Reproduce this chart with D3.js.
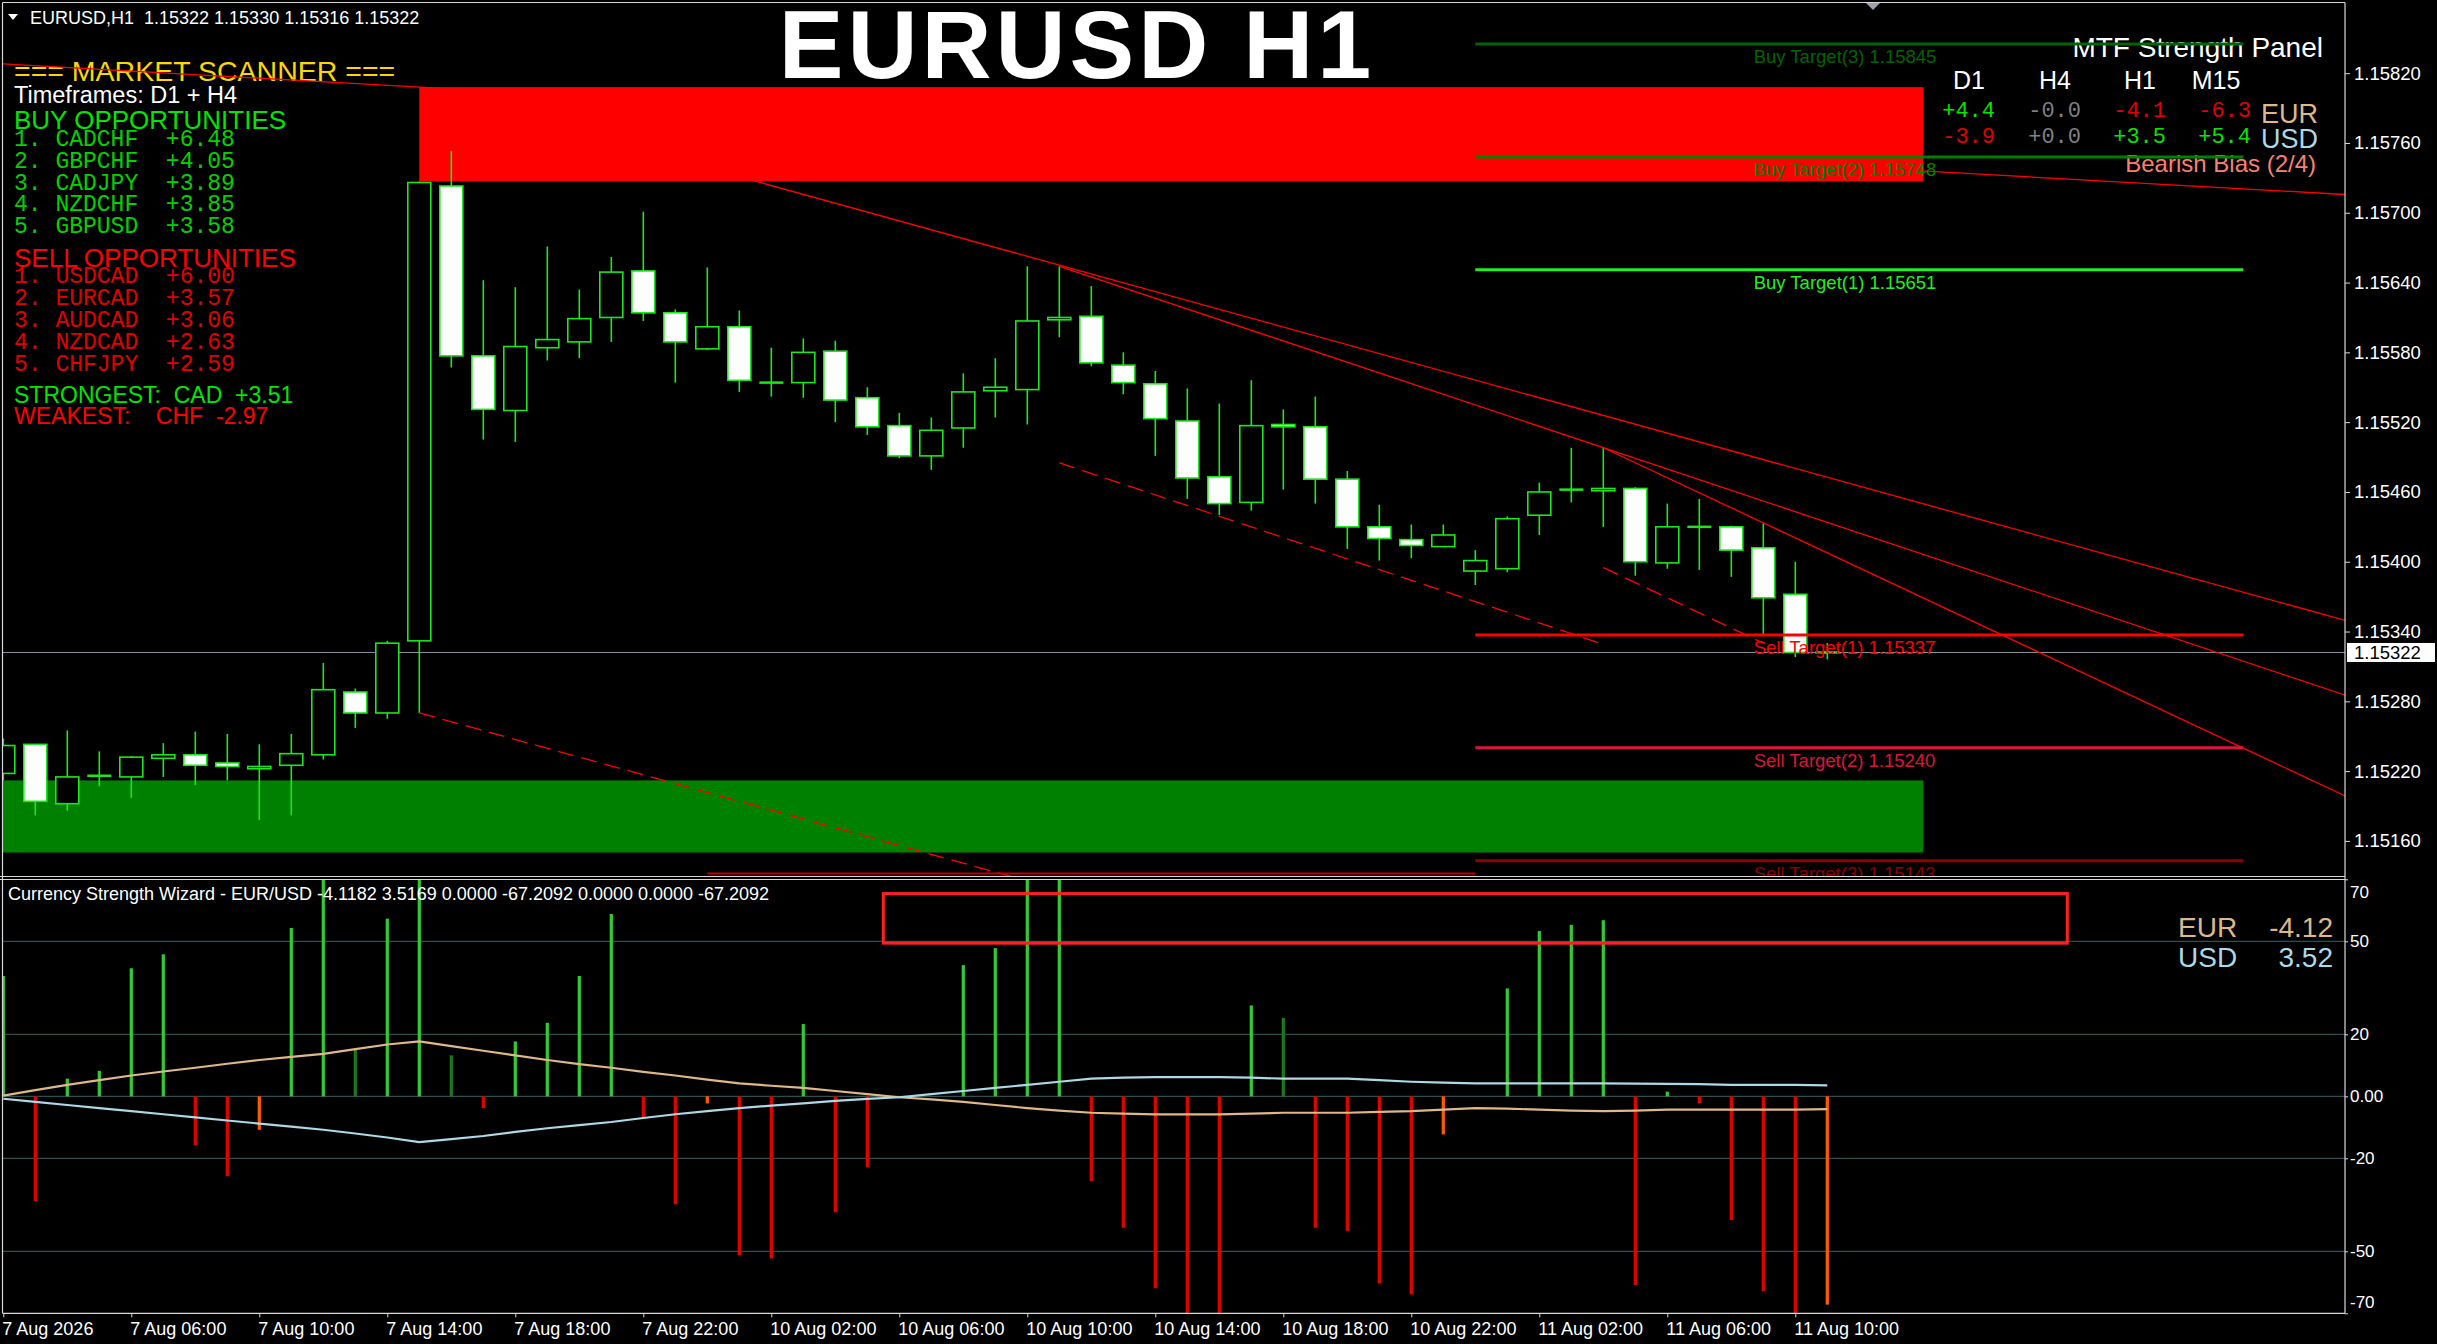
<!DOCTYPE html>
<html><head><meta charset="utf-8">
<script src="https://cdn.jsdelivr.net/npm/d3@7/dist/d3.min.js"></script>
<style>
html,body{margin:0;padding:0;background:#000;overflow:hidden;}
svg{display:block;}
text{white-space:pre;}
</style></head><body>
<svg id="chart" width="2437" height="1344" font-family="'Liberation Sans',Arial,sans-serif"></svg>
<script>
// ---------------- DATA ----------------
const symbolHeader = "EURUSD,H1  1.15322 1.15330 1.15316 1.15322";
const chartTitle = "EURUSD H1";
// H1 bars, index 0 = 7 Aug 02:00
const opens  = [1.15218,1.15243,1.15192,1.15216,1.15215,1.15231,1.15234,1.15227,1.15222,1.15225,1.15234,1.15288,1.15270,1.15332,1.15723,1.15577,1.15530,1.15584,1.15589,1.15610,1.15650,1.15614,1.15583,1.15602,1.15554,1.15554,1.15581,1.15541,1.15517,1.15491,1.15515,1.15547,1.15548,1.15608,1.15611,1.15569,1.15553,1.15521,1.15473,1.15451,1.15518,1.15516,1.15471,1.15430,1.15419,1.15413,1.15392,1.15394,1.15440,1.15462,1.15461,1.15463,1.15399,1.15430,1.15430,1.15412,1.15372,1.15322];
const highs  = [1.15248,1.15243,1.15255,1.15237,1.15233,1.15244,1.15254,1.15252,1.15243,1.15252,1.15313,1.15291,1.15332,1.15727,1.15753,1.15642,1.15636,1.15671,1.15634,1.15662,1.15701,1.15617,1.15653,1.15616,1.15584,1.15592,1.15590,1.15550,1.15528,1.15524,1.15562,1.15575,1.15654,1.15654,1.15637,1.15580,1.15564,1.15549,1.15536,1.15556,1.15531,1.15542,1.15478,1.15449,1.15432,1.15432,1.15410,1.15439,1.15468,1.15498,1.15498,1.15464,1.15450,1.15454,1.15431,1.15433,1.15400,1.15330];
const lows   = [1.15212,1.15182,1.15186,1.15207,1.15197,1.15215,1.15208,1.15212,1.15178,1.15182,1.15230,1.15257,1.15265,1.15270,1.15567,1.15505,1.15503,1.15573,1.15575,1.15589,1.15607,1.15554,1.15582,1.15546,1.15542,1.15541,1.15520,1.15509,1.15489,1.15479,1.15498,1.15524,1.15518,1.15593,1.15568,1.15544,1.15491,1.15454,1.15440,1.15444,1.15462,1.15450,1.15411,1.15401,1.15403,1.15413,1.15380,1.15391,1.15423,1.15451,1.15430,1.15388,1.15394,1.15393,1.15387,1.15336,1.15318,1.15316];
const closes = [1.15242,1.15194,1.15215,1.15216,1.15232,1.15234,1.15225,1.15224,1.15224,1.15235,1.15290,1.15270,1.15330,1.15726,1.15577,1.15531,1.15585,1.15591,1.15609,1.15649,1.15614,1.15589,1.15602,1.15556,1.15554,1.15580,1.15539,1.15516,1.15491,1.15513,1.15546,1.15550,1.15607,1.15610,1.15571,1.15554,1.15523,1.15472,1.15450,1.15517,1.15516,1.15471,1.15430,1.15420,1.15414,1.15423,1.15401,1.15437,1.15460,1.15462,1.15463,1.15400,1.15430,1.15430,1.15410,1.15369,1.15322,1.15322];
const currentPrice = 1.15322;

const priceTicks = [1.15160,1.15220,1.15280,1.15340,1.15400,1.15460,1.15520,1.15580,1.15640,1.15700,1.15760,1.15820];
const timeTickBars = [0,4,8,12,16,20,24,28,32,36,40,44,48,52,56];
const timeTickLabels = ["7 Aug 2026","7 Aug 06:00","7 Aug 10:00","7 Aug 14:00","7 Aug 18:00","7 Aug 22:00","10 Aug 02:00","10 Aug 06:00","10 Aug 10:00","10 Aug 14:00","10 Aug 18:00","10 Aug 22:00","11 Aug 02:00","11 Aug 06:00","11 Aug 10:00"];

// supply / demand zones [fromBar, toBar, lowPrice, highPrice]
const supplyZone = [13, 60, 1.15727, 1.15808];
const demandZone = [-5, 60, 1.15150, 1.15212];

// target levels
const targetNames  = ["Buy Target(3)","Buy Target(2)","Buy Target(1)","Sell Target(1)","Sell Target(2)","Sell Target(3)"];
const targetPrices = [1.15845,1.15748,1.15651,1.15337,1.15240,1.15143];
const targetColors = ["#006400","#008000","#22EE22","#FF0000","#DC143C","#8B0000"];
const targetFromBar = 46, targetToBar = 70, targetLabelBar = 54.7;

// trend lines: [bar1, price1, bar2, price2, extendRight, dashed]
const trendLines = [
  [-2, 1.15831, 73, 1.15716, true, false],
  [13, 1.15807, 33, 1.15655, true, false],
  [33, 1.15654, 73, 1.15287, true, false],
  [50, 1.15498, 73, 1.15201, true, false],
  [13, 1.15270, 33, 1.15118, false, true],
  [33, 1.15485, 50, 1.15329, false, true],
  [50, 1.15395, 55, 1.15330, false, true]
];
const bottomLevel = [22, 46, 1.15132];

// market scanner
const scannerTitle = "=== MARKET SCANNER ===";
const scannerTimeframes = "Timeframes: D1 + H4";
const buyPairs = ["CADCHF","GBPCHF","CADJPY","NZDCHF","GBPUSD"];
const buyScores = [6.48,4.05,3.89,3.85,3.58];
const sellPairs = ["USDCAD","EURCAD","AUDCAD","NZDCAD","CHFJPY"];
const sellScores = [6.00,3.57,3.06,2.63,2.59];
const strongest = ["CAD", 3.51];
const weakest = ["CHF", -2.97];

// MTF panel
const mtfTimeframes = ["D1","H4","H1","M15"];
const mtfEUR = ["+4.4","-0.0","-4.1","-6.3"];
const mtfUSD = ["-3.9","+0.0","+3.5","+5.4"];
const mtfBias = "Bearish Bias (2/4)";

// indicator
const indTitle = "Currency Strength Wizard - EUR/USD -4.1182 3.5169 0.0000 -67.2092 0.0000 0.0000 -67.2092";
const histValues = [38.8,-33.8,5.7,8.2,41.3,45.8,-15.8,-25.8,-10.8,54.3,75,15.2,57.3,80,13.2,-3.8,17.7,23.7,38.8,58.8,-6.8,-34.8,-2.3,-51.3,-52.3,23.3,-37.4,-22.9,0,0,42.3,47.8,72,72,-27.4,-42.4,-61.9,-70,-72,29.3,25.3,-42.4,-43.4,-60.4,-63.9,-12.3,0,34.8,53.3,55.3,56.8,-60.9,1.5,-2.3,-39.9,-62.9,-72,-67.21];
const histKinds  = ["g","r","g","g","g","g","r","r","o","g","g","d","g","g","d","r","g","g","g","g","r","r","o","r","r","g","r","r","g","g","g","g","g","g","r","r","r","r","r","g","d","r","r","r","r","o","g","g","g","g","g","r","g","r","r","r","r","o"];
const eurStrength = [0.2,2.0,3.7,5.2,6.7,8.0,9.2,10.5,11.7,12.7,13.7,15.2,16.7,17.7,16.2,14.7,13.2,11.7,10.4,9.2,7.9,6.7,5.4,4.2,3.4,2.7,1.7,0.7,-0.3,-1.0,-1.8,-2.8,-3.8,-4.6,-5.3,-5.6,-5.8,-5.8,-5.8,-5.6,-5.3,-5.3,-5.3,-5.0,-4.8,-4.3,-3.8,-4.0,-4.3,-4.6,-4.8,-4.6,-4.3,-4.3,-4.3,-4.3,-4.3,-4.12];
const usdStrength = [-0.8,-1.8,-2.8,-3.8,-4.8,-5.8,-6.8,-7.8,-8.8,-9.8,-10.8,-12.0,-13.3,-14.8,-13.8,-12.8,-11.5,-10.3,-9.3,-8.3,-7.0,-5.8,-4.8,-3.8,-3.0,-2.3,-1.5,-0.8,-0.3,0.7,1.7,2.7,3.7,4.7,5.7,6.0,6.2,6.2,6.2,6.0,5.7,5.7,5.7,5.2,4.7,4.4,4.2,4.2,4.2,4.2,4.2,4.1,4.0,3.9,3.7,3.7,3.7,3.52];
const indLevels = [50,20,0,-20,-50];
const indTicks = [70,50,20,0,-20,-50,-70];
const indBox = [27.5, 64.5, 49.4, 65.4];
const indLegendNames = ["EUR","USD"];
const indLegendValues = [-4.12, 3.52];

// ---------------- LAYOUT ----------------
const PL = 3, PR = 2345, MT = 3, MB = 876, IT = 879.3, IB = 1313.3;
const GREEN = "#1EE61E";
const MONO = "'Liberation Mono','Courier New',monospace";
const svg = d3.select("#chart");
svg.append("rect").attr("width",2437).attr("height",1344).attr("fill","#000");

const x = d3.scaleLinear().domain([0, 1]).range([3.3, 35.3]);
const y = d3.scaleLinear().domain([1.15160, 1.15820]).range([840.9, 73.2]);
const yi = d3.scaleLinear().domain([-70, 70]).range([IB, IT]);

const defs = svg.append("defs");
defs.append("clipPath").attr("id","clipMain").append("rect").attr("x",PL).attr("y",MT).attr("width",PR-PL).attr("height",MB-MT);
defs.append("clipPath").attr("id","clipInd").append("rect").attr("x",PL).attr("y",IT).attr("width",PR-PL).attr("height",IB-IT);

const main = svg.append("g").attr("clip-path","url(#clipMain)");

// zones
[[supplyZone,"#FF0000"],[demandZone,"#008000"]].forEach(([z,col])=>{
  main.append("rect").attr("x",x(z[0])).attr("width",x(z[1])-x(z[0]))
    .attr("y",y(z[3])).attr("height",y(z[2])-y(z[3])).attr("fill",col);
});

// current price line
main.append("line").attr("x1",PL).attr("x2",PR).attr("y1",y(currentPrice)).attr("y2",y(currentPrice))
  .attr("stroke","#8796A6").attr("stroke-width",1);

// candles
const bars = d3.range(opens.length).map(i=>({i,o:opens[i],h:highs[i],l:lows[i],c:closes[i]}));
const cg = main.append("g");
bars.forEach(b=>{
  const cx = x(b.i);
  cg.append("line").attr("x1",cx).attr("x2",cx).attr("y1",y(b.h)).attr("y2",y(b.l))
    .attr("stroke",GREEN).attr("stroke-width",1.6);
  const top = y(Math.max(b.o,b.c)), bot = y(Math.min(b.o,b.c));
  if (b.o === b.c) {
    cg.append("line").attr("x1",cx-12).attr("x2",cx+12).attr("y1",top).attr("y2",top)
      .attr("stroke",GREEN).attr("stroke-width",2.5);
  } else {
    cg.append("rect").attr("x",cx-11.5).attr("width",23).attr("y",top).attr("height",Math.max(bot-top,2))
      .attr("fill", b.c < b.o ? "#FFFFFF" : "#000000").attr("stroke",GREEN).attr("stroke-width",1.6);
  }
});

// ---------- text panels (drawn beneath line objects) ----------
const txt = svg.append("g");
txt.append("path").attr("d","M8,14 L18,14 L13,20 Z").attr("fill","#fff");
txt.append("text").attr("x",30).attr("y",24).attr("fill","#fff").attr("font-size",18).text(symbolHeader);
txt.append("text").attr("x",1077).attr("y",78).attr("text-anchor","middle").attr("fill","#fff")
  .attr("font-size",97).attr("font-weight","bold").attr("letter-spacing",4).text(chartTitle);
txt.append("path").attr("d","M1866,3 L1880,3 L1873,10 Z").attr("fill","#9aa3ad");

// scanner
txt.append("text").attr("x",14).attr("y",80.5).attr("fill","#FFD700").attr("font-size",28.5).text(scannerTitle);
txt.append("text").attr("x",14).attr("y",102.5).attr("fill","#fff").attr("font-size",23.5).text(scannerTimeframes);
txt.append("text").attr("x",14).attr("y",129).attr("fill","#00E600").attr("font-size",26).text("BUY OPPORTUNITIES");
buyPairs.forEach((p,k)=>{
  txt.append("text").attr("x",14).attr("y",146+21.8*k).attr("fill","#00D200")
    .attr("font-family",MONO).attr("font-size",23)
    .text(`${k+1}. ${p}  +${buyScores[k].toFixed(2)}`);
});
txt.append("text").attr("x",14).attr("y",266.5).attr("fill","#FF0000").attr("font-size",26).text("SELL OPPORTUNITIES");
sellPairs.forEach((p,k)=>{
  txt.append("text").attr("x",14).attr("y",283.3+22*k).attr("fill","#E00000")
    .attr("font-family",MONO).attr("font-size",23)
    .text(`${k+1}. ${p}  +${sellScores[k].toFixed(2)}`);
});
txt.append("text").attr("x",14).attr("y",402.5).attr("fill","#00E600").attr("font-size",23)
  .text(`STRONGEST:  ${strongest[0]}  ${strongest[1]>=0?"+":""}${strongest[1].toFixed(2)}`);
txt.append("text").attr("x",14).attr("y",424).attr("fill","#FF0000").attr("font-size",23)
  .text(`WEAKEST:    ${weakest[0]}  ${weakest[1].toFixed(2)}`);

// MTF panel
txt.append("text").attr("x",2323).attr("y",57).attr("text-anchor","end").attr("fill","#fff").attr("font-size",28).text("MTF Strength Panel");
const headCx = [1969, 2055, 2140, 2216];
const valRight = [1995, 2081, 2166, 2251];
mtfTimeframes.forEach((t,k)=>{
  txt.append("text").attr("x",headCx[k]).attr("y",88.5).attr("text-anchor","middle").attr("fill","#fff").attr("font-size",25).text(t);
});
const valColor = s => { const v = parseFloat(s); return v > 0 ? "#00E600" : (v < 0 ? "#E00000" : "#808080"); };
[mtfEUR, mtfUSD].forEach((row,r)=>{
  row.forEach((s,k)=>{
    txt.append("text").attr("x",valRight[k]).attr("y",116.5+26*r).attr("text-anchor","end")
      .attr("font-family",MONO).attr("font-size",22)
      .attr("fill",valColor(s)).text(s);
  });
});
txt.append("text").attr("x",2261).attr("y",122.5).attr("fill","#DEB887").attr("font-size",27).text("EUR");
txt.append("text").attr("x",2261).attr("y",147.5).attr("fill","#ADD8E6").attr("font-size",27).text("USD");
txt.append("text").attr("x",2316).attr("y",172).attr("text-anchor","end").attr("fill","#FA8072").attr("font-size",24).text(mtfBias);

// ---------- line objects ----------
const lines = svg.append("g").attr("clip-path","url(#clipMain)");
trendLines.forEach(t=>{
  const [b1,p1,b2,p2,ext,dash] = t;
  let eb = b2, ep = p2;
  if (ext) { const s = (p2-p1)/(b2-b1); eb = 90; ep = p1 + s*(eb-b1); }
  lines.append("line").attr("x1",x(b1)).attr("y1",y(p1)).attr("x2",x(eb)).attr("y2",y(ep))
    .attr("stroke","#FF0000").attr("stroke-width",1.3).attr("stroke-dasharray", dash ? "16,8" : null);
});
lines.append("line").attr("x1",x(bottomLevel[0])).attr("x2",x(bottomLevel[1]))
  .attr("y1",y(bottomLevel[2])).attr("y2",y(bottomLevel[2])).attr("stroke","#C00000").attr("stroke-width",2);

targetPrices.forEach((p,k)=>{
  lines.append("line").attr("x1",x(targetFromBar)).attr("x2",x(targetToBar)).attr("y1",y(p)).attr("y2",y(p))
    .attr("stroke",targetColors[k]).attr("stroke-width",3);
  lines.append("text").attr("x",x(targetLabelBar)).attr("y",y(p)+19).attr("fill",targetColors[k])
    .attr("font-size",18.5).text(`${targetNames[k]} ${p.toFixed(5)}`);
});

// ---------- indicator ----------
const ind = svg.append("g").attr("clip-path","url(#clipInd)");
indLevels.forEach(v=>{
  ind.append("line").attr("x1",PL).attr("x2",PR).attr("y1",yi(v)).attr("y2",yi(v)).attr("stroke","#2F4F4F").attr("stroke-width",1.2);
});
const kindColor = {g:"#36C936", d:"#1B7A1B", r:"#E60000", o:"#FF5A00"};
histValues.forEach((v,i)=>{
  if (v === 0) return;
  ind.append("rect").attr("x",x(i)-1.6).attr("width",3.2)
    .attr("y",Math.min(yi(v),yi(0))).attr("height",Math.abs(yi(v)-yi(0))).attr("fill",kindColor[histKinds[i]]);
});
const ln = d3.line().x((d,i)=>x(i)).y(d=>yi(d));
ind.append("path").datum(eurStrength).attr("d",ln).attr("fill","none").attr("stroke","#DEB887").attr("stroke-width",2.2);
ind.append("path").datum(usdStrength).attr("d",ln).attr("fill","none").attr("stroke","#ADD8E6").attr("stroke-width",2.2);
ind.append("rect").attr("x",x(indBox[0])).attr("width",x(indBox[1])-x(indBox[0]))
  .attr("y",yi(indBox[3])).attr("height",yi(indBox[2])-yi(indBox[3]))
  .attr("fill","none").attr("stroke","#FF2020").attr("stroke-width",3);
svg.append("text").attr("x",8).attr("y",900).attr("fill","#fff").attr("font-size",18).text(indTitle);
const legCol = ["#DEB887","#ADD8E6"];
indLegendNames.forEach((n,k)=>{
  svg.append("text").attr("x",2178).attr("y",936.5+30*k).attr("fill",legCol[k]).attr("font-size",28).text(n);
  svg.append("text").attr("x",2333).attr("y",936.5+30*k).attr("text-anchor","end").attr("fill",legCol[k]).attr("font-size",28).text(indLegendValues[k].toFixed(2));
});

// ---------- frames ----------
const fr = svg.append("g").attr("stroke","#D8D8D8").attr("stroke-width",1.2).attr("fill","none");
fr.append("line").attr("x1",PL-0.5).attr("x2",PR).attr("y1",2.5).attr("y2",2.5);
fr.append("line").attr("x1",2.5).attr("x2",2.5).attr("y1",2.5).attr("y2",IB);
fr.append("line").attr("x1",PR).attr("x2",PR).attr("y1",2.5).attr("y2",IB);
fr.append("line").attr("x1",0).attr("x2",PR).attr("y1",876.5).attr("y2",876.5);
fr.append("line").attr("x1",0).attr("x2",PR).attr("y1",879.5).attr("y2",879.5);
fr.append("line").attr("x1",2.5).attr("x2",PR).attr("y1",IB).attr("y2",IB);

// ---------- axes ----------
const styleAxis = (g, fs) => {
  g.attr("font-family",null);
  g.select(".domain").remove();
  g.selectAll("line").attr("stroke","#D8D8D8");
  g.selectAll("text").attr("fill","#fff").attr("font-size",fs).attr("font-family","'Liberation Sans',Arial,sans-serif");
};
svg.append("g").attr("transform",`translate(${PR},0)`)
  .call(d3.axisRight(y).tickValues(priceTicks).tickFormat(d3.format(".5f")).tickSize(5).tickPadding(4))
  .call(g=>styleAxis(g,18.5));
svg.append("rect").attr("x",PR+2).attr("y",y(currentPrice)-9.5).attr("width",88).attr("height",19).attr("fill","#fff");
svg.append("text").attr("x",PR+9).attr("y",y(currentPrice)+6.5).attr("fill","#000").attr("font-size",18.5).text(currentPrice.toFixed(5));

svg.append("g").attr("transform",`translate(0,${IB})`)
  .call(d3.axisBottom(x).tickValues(timeTickBars).tickFormat((d,i)=>timeTickLabels[i]).tickSize(4).tickPadding(5))
  .call(g=>{ styleAxis(g,18); g.selectAll("text").attr("text-anchor","start").attr("x",-1.5); });

svg.append("g").attr("transform",`translate(${PR},0)`)
  .call(d3.axisRight(yi).tickValues(indTicks).tickFormat(d=> d===0 ? "0.00" : String(d)).tickSize(3).tickPadding(2))
  .call(g=>{ styleAxis(g,17);
    g.selectAll(".tick").filter(d=>d===70).select("text").attr("y",13);
    g.selectAll(".tick").filter(d=>d===-70).select("text").attr("y",-11);
  });
</script>
</body></html>
